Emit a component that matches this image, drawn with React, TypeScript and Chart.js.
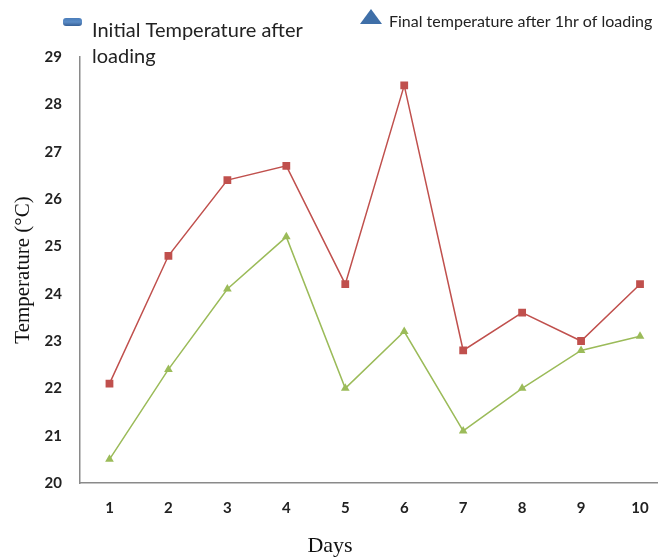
import React, { useEffect, useRef } from "react";
import { Chart, registerables } from "chart.js";

Chart.register(...registerables);

const days = ["1", "2", "3", "4", "5", "6", "7", "8", "9", "10"];
const initialTemp = [22.1, 24.8, 26.4, 26.7, 24.2, 28.4, 22.8, 23.6, 23.0, 24.2];
const finalTemp = [20.5, 22.4, 24.1, 25.2, 22.0, 23.2, 21.1, 22.0, 22.8, 23.1];
const initialLabel = ["Initial Temperature after", "loading"];
const finalLabel = "Final temperature after 1hr of loading";
const yTitle = "Temperature (°C)";
const xTitle = "Days";
const yMin = 20;
const yMax = 29;

const decorPlugin = {
  id: "decor",
  afterDraw(chart: any) {
    const ctx = chart.ctx;
    ctx.save();
    // y title
    ctx.fillStyle = "#111";
    ctx.font = '21px "Liberation Serif"';
    ctx.textAlign = "center";
    ctx.textBaseline = "middle";
    ctx.save();
    ctx.translate(23, 270);
    ctx.rotate(-Math.PI / 2);
    ctx.fillText(yTitle, 0, 0);
    ctx.restore();
    // x title
    ctx.font = '22px "Liberation Serif"';
    ctx.fillText(xTitle, 330, 546);

    // legend 1 marker
    const grad = ctx.createLinearGradient(0, 18, 0, 26);
    grad.addColorStop(0, "#4A7DBA");
    grad.addColorStop(0.5, "#5B8CC6");
    grad.addColorStop(1, "#355F96");
    ctx.fillStyle = grad;
    const rx = 63, ry = 18, rw = 19, rh = 8, rr = 3;
    ctx.beginPath();
    ctx.moveTo(rx + rr, ry);
    ctx.lineTo(rx + rw - rr, ry);
    ctx.quadraticCurveTo(rx + rw, ry, rx + rw, ry + rr);
    ctx.lineTo(rx + rw, ry + rh - rr);
    ctx.quadraticCurveTo(rx + rw, ry + rh, rx + rw - rr, ry + rh);
    ctx.lineTo(rx + rr, ry + rh);
    ctx.quadraticCurveTo(rx, ry + rh, rx, ry + rh - rr);
    ctx.lineTo(rx, ry + rr);
    ctx.quadraticCurveTo(rx, ry, rx + rr, ry);
    ctx.fill();
    ctx.fillStyle = "#222";
    ctx.textAlign = "left";
    ctx.textBaseline = "alphabetic";
    ctx.font = '20px Lato';
    ctx.fillText(initialLabel[0], 92, 37);
    ctx.fillText(initialLabel[1], 92, 63);

    // legend 2 marker
    ctx.fillStyle = "#3F6FA8";
    ctx.beginPath();
    ctx.moveTo(371, 9);
    ctx.lineTo(382, 24);
    ctx.lineTo(360, 24);
    ctx.closePath();
    ctx.fill();
    ctx.fillStyle = "#222";
    ctx.font = '16px Lato';
    ctx.fillText(finalLabel, 389, 27);
    ctx.restore();
  },
};

export default function App() {
  const ref = useRef<HTMLCanvasElement>(null);
  useEffect(() => {
    if (!ref.current) return;
    const chart = new Chart(ref.current, {
      type: "line",
      data: {
        labels: days,
        datasets: [
          {
            label: initialLabel.join(" "),
            data: initialTemp,
            borderColor: "#C0504D",
            backgroundColor: "#C0504D",
            borderWidth: 1.5,
            pointStyle: "rect",
            pointRadius: 5.5,
            pointBorderWidth: 0,
            tension: 0,
          },
          {
            label: finalLabel,
            data: finalTemp,
            borderColor: "#9BBB59",
            backgroundColor: "#9BBB59",
            borderWidth: 1.5,
            pointStyle: "triangle",
            pointRadius: 5,
            pointBorderWidth: 0,
            tension: 0,
          },
        ],
      },
      options: {
        animation: false,
        responsive: false,
        maintainAspectRatio: false,
        layout: { padding: { top: 57, left: 0, right: 0, bottom: 0 } },
        plugins: {
          legend: { display: false },
          tooltip: { enabled: false },
        },
        scales: {
          x: {
            offset: true,
            grid: { display: false, drawTicks: false },
            border: { display: true, color: "#8A8A8A", width: 1.5 },
            ticks: {
              color: "#222",
              font: { family: "Lato", size: 15, weight: "bold" },
              padding: 16,
            },
            afterFit(scale: any) {
              scale.height = 77;
            },
          },
          y: {
            min: yMin,
            max: yMax,
            grid: { display: false, drawTicks: false },
            border: { display: true, color: "#8A8A8A", width: 1.5 },
            ticks: {
              stepSize: 1,
              color: "#222",
              font: { family: "Lato", size: 15, weight: "bold" },
              padding: 18,
            },
            afterFit(scale: any) {
              scale.width = 80;
            },
          },
        },
      },
      plugins: [decorPlugin],
    });
    return () => chart.destroy();
  }, []);
  return (
    <div style={{ position: "absolute", left: 0, top: 0, width: 658, height: 560, overflow: "hidden", background: "#fff" }}>
      <canvas ref={ref} width={675} height={560} style={{ width: 675, height: 560, display: "block" }} />
    </div>
  );
}
